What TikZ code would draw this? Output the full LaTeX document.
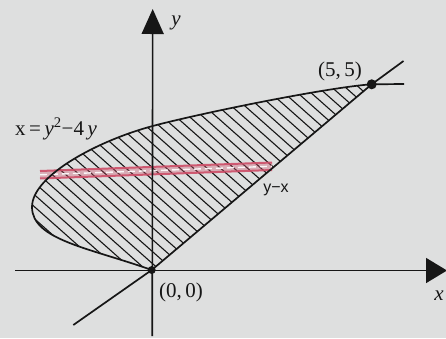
\documentclass[tikz,border=0pt]{standalone}
\usepackage{fontspec}
\setmainfont{Liberation Serif}
\newfontfamily\labsans{Liberation Sans}
\usetikzlibrary{arrows.meta,calc}
\definecolor{bg}{RGB}{222,223,223}
\definecolor{ink}{RGB}{22,22,22}
\definecolor{bandred}{RGB}{206,78,104}
\begin{document}
\begin{tikzpicture}[x=1pt,y=-1pt,
  axis/.style={draw=ink,line width=1.6pt},
  curve/.style={draw=ink,line width=1.7pt},
  hatch/.style={draw=ink,line width=1.1pt},
  dot/.style={circle,fill=ink,inner sep=0pt,minimum size=#1},
  lab/.style={text=ink,inner sep=0pt,font=\fontsize{21}{23}\selectfont},
  smalllab/.style={text=ink,inner sep=0pt,font=\labsans\fontsize{16}{18}\selectfont}]
\useasboundingbox (0,0) rectangle (446,338);
\fill[bg] (0,0) rectangle (446,338);
\clip (0,0) rectangle (446,338);
% key points
\coordinate (O) at (151.7,270);
\coordinate (P) at (371.7,84.3);
\coordinate (V) at (32,207);
\coordinate (A) at (152.7,126);
\coordinate (L1) at (73.3,325);
\coordinate (L2) at (403.5,61);
\coordinate (C2) at (404,84);
\coordinate (XS) at (15,270.5);
\coordinate (XE) at (447,270.5);
\coordinate (YS) at (152.2,336);
\coordinate (YE) at (152.7,9);
% hatching
\begin{scope}
\clip (O) .. controls (90,248) and (32,240) .. (V)
          .. controls (32,175) and (100,140) .. (A)
          .. controls (202.7,112.7) and (330,87) .. (P) -- cycle;
\foreach \c in {-320,-306.5,...,300} \draw[hatch] (\c,0) -- ++(400,355);
\end{scope}
% red strip
\coordinate (TL) at (40,171);
\coordinate (TR) at (272,162.5);
\coordinate (BR) at (272,170);
\coordinate (BL) at (40,178.5);
\fill[bandred,opacity=0.35] (TL) -- (TR) -- (BR) -- (BL) -- cycle;
\draw[bandred,line width=2pt,opacity=0.9] (TL) -- (TR);
\draw[bandred,line width=2pt,opacity=0.9] (BL) -- (BR);
\draw[white,line width=1.4pt,dash pattern=on 7pt off 4pt,opacity=0.9] ($(TL)!0.5!(BL)$) -- ($(TR)!0.5!(BR)$);
% boundary curve
\draw[curve] (O) .. controls (90,248) and (32,240) .. (V)
          .. controls (32,175) and (100,140) .. (A)
          .. controls (202.7,112.7) and (330,87) .. (P) -- (C2);
% line y = x
\draw[curve] (L1) -- (O) -- (P) -- (L2);
% axes
\draw[axis,-{Triangle[length=21pt,width=25pt]}] (XS) -- (XE);
\draw[axis,-{Triangle[length=25pt,width=22pt]}] (YS) -- (YE);
% dots
\node[dot=8pt] (Od) at (O) {};
\node[dot=10pt] (Pd) at (P) {};
% labels
\node[lab] (ylab) at (176,23) {\textit{y}};
\node[lab] (xlab) at (439,296) {\textit{x}};
\node[lab] (olab) at (181,292) {(0,\,0)};
\node[lab] (plab) at (340,71) {(5,\,5)};
\node[lab,anchor=base west] (eq) at (15,135) {x\,=\,\textit{y}\textsuperscript{2}−4\,\textit{y}};
\node[smalllab] (yx) at (276,190) {y−x};
\end{tikzpicture}
\end{document}
